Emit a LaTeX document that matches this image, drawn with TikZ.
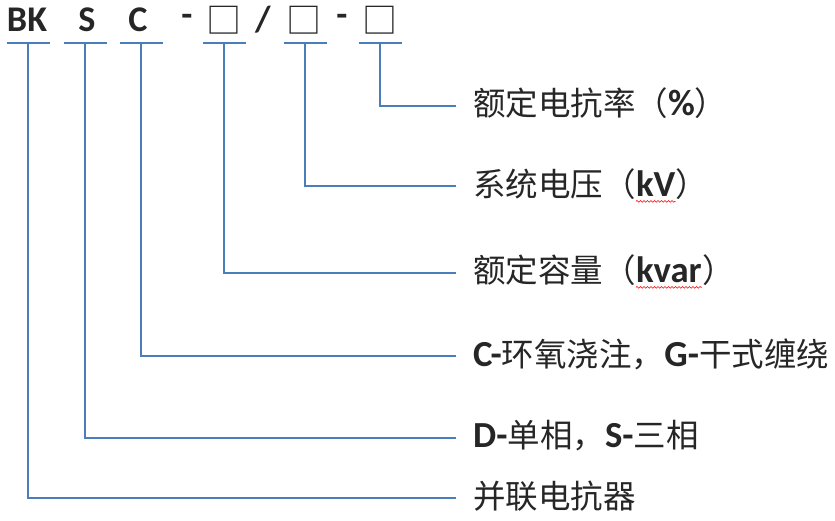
\documentclass[tikz,border=0pt]{standalone}
\usepackage{fontspec}
\setmainfont{Carlito}[Scale=1.13]
\newfontfamily\zh{Noto Sans CJK SC}
\usetikzlibrary{decorations.pathmorphing}
\definecolor{leadblue}{HTML}{4A7EBB}
\definecolor{ink}{HTML}{262626}
\newcommand\lat[1]{{\rmfamily\bfseries #1}}

\begin{document}
\begin{tikzpicture}[x=1pt,y=-1pt,
  lead/.style={leadblue,line width=2pt},
  code/.style={inner sep=0pt,text=ink,font=\fontsize{32}{32}\selectfont\bfseries},
  box/.style={code,font=\fontsize{35}{35}\selectfont\zh\mdseries},
  desc/.style={inner sep=0pt,anchor=west,text=ink,font=\fontsize{32.5}{32.5}\selectfont},
  wavy/.style={red,line width=.6pt,decorate,decoration={snake,amplitude=.9pt,segment length=3.5pt}}]
\useasboundingbox (0,0) rectangle (835,520);
% model code
\node[code] (bk) at (27,20) {BK}; \node[code] (s) at (87,20) {S}; \node[code] (c) at (138,20) {C};
\node[code] (h1) at (187,20) {-}; \node[box] (q1) at (224,20) {□};
\node[code] (sl) at (263,20) {/}; \node[box] (q2) at (304,20) {□};
\node[code] (h2) at (342,20) {-}; \node[box] (q3) at (380,20) {□};
% meanings
\node[desc] (d1) at (473,103) {\zh 额定电抗率（\lat{\%}）};
\node[desc] (d2) at (473,184) {\zh 系统电压（};
\node[desc,anchor=base west] (k2) at (d2.base east) {\lat{kV}};
\node[desc,anchor=base west] (p2) at (k2.base east) {\zh ）};
\node[desc] (d3) at (473,270) {\zh 额定容量（};
\node[desc,anchor=base west] (k3) at (d3.base east) {\lat{kvar}};
\node[desc,anchor=base west] (p3) at (k3.base east) {\zh ）};
\node[desc] (d4) at (473,354) {\lat{C-}\zh 环氧浇注，\lat{G-}干式缠绕};
\node[desc] (d5) at (473,436) {\lat{D-}\zh 单相，\lat{S-}三相};
\node[desc] (d6) at (473,496) {\zh 并联电抗器};
\draw[wavy] ([yshift=-5]k2.base west) -- ([yshift=-5]k2.base east);
\draw[wavy] ([yshift=-5]k3.base west) -- ([yshift=-5]k3.base east);
% leaders
\foreach \i/\x/\y in {1/380/105.5,2/305/186,3/224/272.5,4/141/356,5/85/438,6/28/497.5}{
  \coordinate (u\i) at (\x,43); \coordinate (e\i) at (456,\y);
  \draw[lead] ([xshift=-21.5]u\i) -- ([xshift=21.5]u\i);
  \draw[lead] (u\i) |- (e\i);
}
\end{tikzpicture}
\end{document}
